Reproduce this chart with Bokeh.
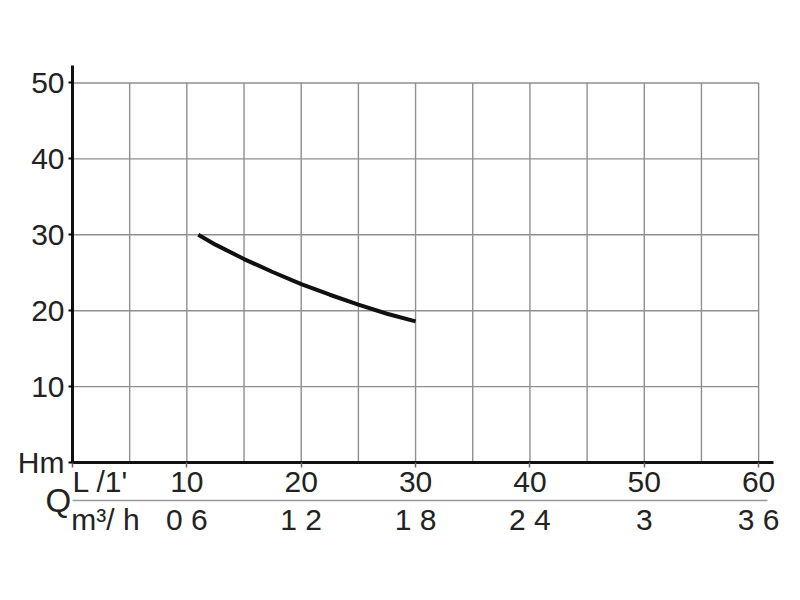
from bokeh.plotting import figure
from bokeh.models import Range1d, LinearAxis, FixedTicker, Title
from bokeh.embed import file_html
from bokeh.resources import INLINE

# ---- data ----
flow_lpm = [11, 12.5, 15, 17.5, 20, 22.5, 25, 27.5, 30]
head_m = [30.0, 28.7, 26.8, 25.1, 23.5, 22.1, 20.8, 19.6, 18.6]

x_ticks = [0, 10, 20, 30, 40, 50, 60]
x_labels = ["", "10", "20", "30", "40", "50", "60"]
x_grid = [5, 10, 15, 20, 25, 30, 35, 40, 45, 50, 55, 60]
m3h_ticks = [10, 20, 30, 40, 50, 60]
m3h_labels = ["0 6", "1 2", "1 8", "2 4", "3", "3 6"]
y_ticks = [0, 10, 20, 30, 40, 50]
y_grid = [10, 20, 30, 40, 50]

FONT = "Liberation Sans"
TXT = "#222222"
GRID = "#8f8f8f"
FS = "30px"

# caption anchors (flow units)
LPM_POS, M3H_POS = 2.44, 2.88
X_END = 61.3
Y_END = 52.3

p = figure(frame_width=701, frame_height=397, output_backend="svg", toolbar_location=None,
           x_range=Range1d(0, X_END), y_range=Range1d(0, Y_END),
           x_axis_type=None, y_axis_type=None,
           min_border_left=72, min_border_right=12, min_border_top=65,
           min_border_bottom=0)
p.outline_line_color = None
p.xgrid.visible = False
p.ygrid.visible = False

# grid
ymin, ymax = min(y_ticks), max(y_ticks)
xmin, xmax = min(x_ticks), max(x_ticks)
p.segment(x0=x_grid, x1=x_grid, y0=[ymin] * len(x_grid), y1=[ymax] * len(x_grid),
          line_color=GRID, line_width=1.4)
p.segment(x0=[xmin] * len(y_grid), x1=[xmax] * len(y_grid), y0=y_grid, y1=y_grid,
          line_color=GRID, line_width=1.4)

# curve
p.line(flow_lpm, head_m, line_color="#111111", line_width=4)


def bare(ax, size=FS):
    ax.major_tick_in = 0
    ax.minor_tick_out = 0
    ax.minor_tick_in = 0
    ax.major_label_text_font = FONT
    ax.major_label_text_font_size = size
    ax.major_label_text_color = TXT
    return ax


# left axis
ya = bare(LinearAxis(ticker=FixedTicker(ticks=y_ticks),
                     major_label_overrides={0: "Hm"}))
ya.axis_line_width = 3
ya.axis_line_color = "#111111"
ya.major_tick_out = 4
ya.major_tick_line_width = 2
ya.major_label_standoff = 4
p.add_layout(ya, "left")

# bottom axis line with ticks (no labels)
xa = bare(LinearAxis(ticker=FixedTicker(ticks=x_ticks),
                     major_label_overrides={t: "" for t in x_ticks}), size="1px")
xa.axis_line_width = 3
xa.axis_line_color = "#111111"
xa.major_tick_out = 5
xa.major_tick_line_width = 1.5
xa.major_tick_line_color = "#666666"
xa.major_label_standoff = 0
p.add_layout(xa, "below")

# L/min labels row
xb = bare(LinearAxis(ticker=FixedTicker(ticks=[LPM_POS] + x_ticks[1:]),
                     major_label_overrides={**{LPM_POS: "L /1'"},
                                            **{t: s for t, s in zip(x_ticks[1:], x_labels[1:])}}))
xb.axis_line_color = None
xb.major_tick_out = 0
xb.major_tick_line_color = None
xb.major_label_standoff = -3
p.add_layout(xb, "below")

# m3/h labels row with separator line
xc = bare(LinearAxis(ticker=FixedTicker(ticks=[M3H_POS] + m3h_ticks),
                     major_label_overrides={**{M3H_POS: "m³/ h"},
                                            **{t: s for t, s in zip(m3h_ticks, m3h_labels)}},
                     bounds=(0, 60.8)))
xc.axis_line_width = 1.5
xc.axis_line_color = "#9a9a9a"
xc.major_tick_out = 0
xc.major_tick_line_color = None
xc.major_label_standoff = 2
p.add_layout(xc, "below")

# Q caption, shifted left of the frame and up between the two rows
q = Title(text="Q", align="left", offset=-27, vertical_align="top", standoff=-114,
          text_font=FONT, text_font_size="33px", text_font_style="normal", text_color=TXT)
p.add_layout(q, "below")

open("out.html", "w").write(file_html(p, INLINE))
